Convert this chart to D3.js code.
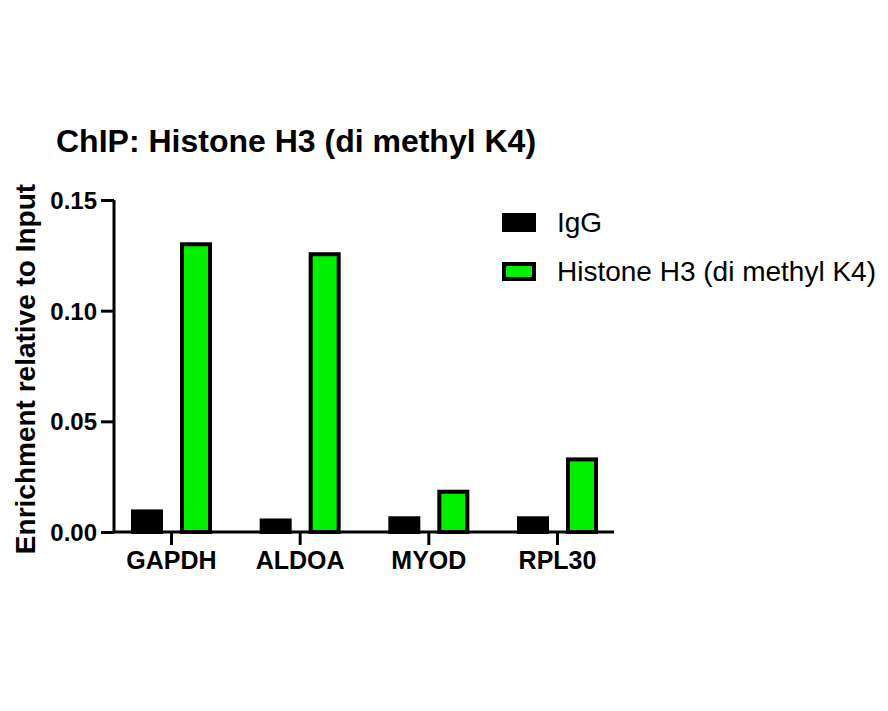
<!DOCTYPE html>
<html><head><meta charset="utf-8">
<script src="https://cdn.jsdelivr.net/npm/d3@7"></script>
<style>body{margin:0;background:#fff}svg{display:block}text{font-family:"Liberation Sans",Arial,sans-serif}</style>
</head><body>
<script>
const categories = ["GAPDH", "ALDOA", "MYOD", "RPL30"];
const seriesNames = ["IgG", "Histone H3 (di methyl K4)"];
const igg = [0.0093, 0.0052, 0.0062, 0.0062];
const histone = [0.130, 0.1255, 0.0182, 0.0328];
const yTicks = [0, 0.05, 0.10, 0.15];
const colors = ["#000000", "#00f000"];

const W = 888, H = 711;
const svg = d3.select("body").append("svg").attr("width", W).attr("height", H);

const x = d3.scalePoint().domain(categories).range([114, 614]).padding(0.443);
const y = d3.scaleLinear().domain([0, 0.15]).range([532, 200]);
const off = d3.scaleOrdinal().domain(seriesNames).range([-24, 25]);
const barW = 28;

const series = [igg, histone];
series.forEach((vals, si) => {
  svg.append("g").selectAll("rect").data(vals).join("rect")
    .attr("x", (d, i) => x(categories[i]) + off(seriesNames[si]) - barW / 2)
    .attr("y", d => y(d))
    .attr("width", barW)
    .attr("height", d => y(0) - y(d))
    .attr("fill", colors[si])
    .attr("stroke", "#000")
    .attr("stroke-width", 4);
});

// axes
const yAxis = svg.append("g").attr("transform", "translate(114,0)")
  .call(d3.axisLeft(y).tickValues(yTicks).tickFormat(d3.format(".2f")).tickSize(13).tickPadding(4));
const xAxis = svg.append("g").attr("transform", "translate(0,532)")
  .call(d3.axisBottom(x).tickSize(13).tickPadding(6));
xAxis.select(".domain").attr("d", "M114,0H614");
yAxis.select(".domain").attr("d", "M0,532V200");
[xAxis, yAxis].forEach(a => {
  a.selectAll(".domain, .tick line").attr("stroke", "#000").attr("stroke-width", 3);
  a.selectAll("text").attr("fill", "#000").attr("font-weight", "bold")
    .attr("font-family", "Liberation Sans, Arial, sans-serif");
});
yAxis.selectAll(".tick text").attr("font-size", 24).attr("dy", "0.35em");
xAxis.selectAll(".tick text").attr("font-size", 25);

// title
svg.append("text").attr("x", 56).attr("y", 152).attr("font-size", 32).attr("font-weight", "bold")
  .text("ChIP: Histone H3 (di methyl K4)");

// y title
svg.append("text").attr("transform", "translate(35,369) rotate(-90)").attr("text-anchor", "middle")
  .attr("font-size", 28).attr("font-weight", "bold").text("Enrichment relative to Input");

// legend
const lg = svg.append("g");
seriesNames.forEach((n, i) => {
  const yy = 215 + i * 49;
  lg.append("rect").attr("x", 504).attr("y", yy).attr("width", 30).attr("height", 15)
    .attr("fill", colors[i]).attr("stroke", "#000").attr("stroke-width", 4);
  lg.append("text").attr("x", 557).attr("y", yy + 17).attr("font-size", 28).text(n);
});
</script>
</body></html>
